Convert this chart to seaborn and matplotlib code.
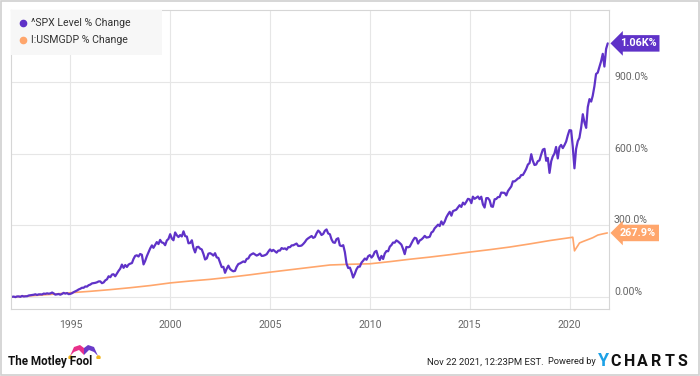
import matplotlib
matplotlib.use("Agg")
import matplotlib.pyplot as plt
import matplotlib.dates as mdates
import matplotlib.patches as mpatches
import seaborn as sns
import pandas as pd
import numpy as np

# S&P 500 month-end closes, Jan 1992 .. Nov 2021
spx_levels = [
    408.8, 412.7, 403.7, 414.9, 415.4, 408.1, 424.2, 414.0, 417.8, 418.7, 431.4, 435.7,
    438.8, 443.4, 451.7, 440.2, 450.2, 450.5, 448.1, 463.6, 458.9, 467.8, 461.8, 466.5,
    481.6, 467.1, 445.8, 450.9, 456.5, 444.3, 458.3, 475.5, 462.7, 472.4, 453.7, 459.3,
    470.4, 487.4, 500.7, 514.7, 533.4, 544.8, 562.1, 561.9, 584.4, 581.5, 605.4, 615.9,
    636.0, 640.4, 645.5, 654.2, 669.1, 670.6, 639.9, 652.0, 687.3, 705.3, 757.0, 740.7,
    786.2, 790.8, 757.1, 801.3, 848.3, 885.1, 954.3, 899.5, 947.3, 914.6, 955.4, 970.4,
    980.3, 1049.3, 1101.8, 1111.8, 1090.8, 1133.8, 1120.7, 957.3, 1017.0, 1098.7, 1163.6, 1229.2,
    1279.6, 1238.3, 1286.4, 1335.2, 1301.8, 1372.7, 1328.7, 1320.4, 1282.7, 1362.9, 1388.9, 1469.3,
    1394.5, 1366.4, 1498.6, 1452.4, 1420.6, 1454.6, 1430.8, 1517.7, 1436.5, 1429.4, 1315.2, 1320.3,
    1366.0, 1239.9, 1160.3, 1249.5, 1255.8, 1224.4, 1211.2, 1133.6, 1040.9, 1059.8, 1139.5, 1148.1,
    1130.2, 1106.7, 1147.4, 1076.9, 1067.1, 989.8, 911.6, 916.1, 815.3, 885.8, 936.3, 879.8,
    855.7, 841.2, 848.2, 916.9, 963.6, 974.5, 990.3, 1008.0, 996.0, 1050.7, 1058.2, 1111.9,
    1131.1, 1144.9, 1126.2, 1107.3, 1120.7, 1140.8, 1101.7, 1104.2, 1114.6, 1130.2, 1173.8, 1211.9,
    1181.3, 1203.6, 1180.6, 1156.9, 1191.5, 1191.3, 1234.2, 1220.3, 1228.8, 1207.0, 1249.5, 1248.3,
    1280.1, 1280.7, 1294.9, 1310.6, 1270.1, 1270.2, 1276.7, 1303.8, 1335.9, 1377.9, 1400.6, 1418.3,
    1438.2, 1406.8, 1420.9, 1482.4, 1530.6, 1503.4, 1455.3, 1474.0, 1526.8, 1549.4, 1481.1, 1468.4,
    1378.6, 1330.6, 1322.7, 1385.6, 1400.4, 1280.0, 1267.4, 1282.8, 1166.4, 968.8, 896.2, 903.3,
    825.9, 735.1, 797.9, 872.8, 919.1, 919.3, 987.5, 1020.6, 1057.1, 1036.2, 1095.6, 1115.1,
    1073.9, 1104.5, 1169.4, 1186.7, 1089.4, 1030.7, 1101.6, 1049.3, 1141.2, 1183.3, 1180.6, 1257.6,
    1286.1, 1327.2, 1325.8, 1363.6, 1345.2, 1320.6, 1292.3, 1218.9, 1131.4, 1253.3, 1247.0, 1257.6,
    1312.4, 1365.7, 1408.5, 1397.9, 1310.3, 1362.2, 1379.3, 1406.6, 1440.7, 1412.2, 1416.2, 1426.2,
    1498.1, 1514.7, 1569.2, 1597.6, 1630.7, 1606.3, 1685.7, 1633.0, 1681.6, 1756.5, 1805.8, 1848.4,
    1782.6, 1859.5, 1872.3, 1884.0, 1923.6, 1960.2, 1930.7, 2003.4, 1972.3, 2018.1, 2067.6, 2058.9,
    1995.0, 2104.5, 2067.9, 2085.5, 2107.4, 2063.1, 2103.8, 1972.2, 1920.0, 2079.4, 2080.4, 2043.9,
    1940.2, 1932.2, 2059.7, 2065.3, 2097.0, 2098.9, 2173.6, 2171.0, 2168.3, 2126.2, 2198.8, 2238.8,
    2278.9, 2363.6, 2362.7, 2384.2, 2411.8, 2423.4, 2470.3, 2471.7, 2519.4, 2575.3, 2647.6, 2673.6,
    2823.8, 2713.8, 2640.9, 2648.1, 2705.3, 2718.4, 2816.3, 2901.5, 2914.0, 2711.7, 2760.2, 2506.9,
    2704.1, 2784.5, 2834.4, 2945.8, 2752.1, 2941.8, 2980.4, 2926.5, 2976.7, 3037.6, 3141.0, 3230.8,
    3225.5, 2954.2, 2584.6, 2912.4, 3044.3, 3100.3, 3271.1, 3500.3, 3363.0, 3270.0, 3621.6, 3756.1,
    3714.2, 3811.2, 3972.9, 4181.2, 4204.1, 4297.5, 4395.3, 4522.7, 4307.5, 4605.4, 4700.0,
]
spx_base = 405.0

# monthly US GDP, % change since start
gdp_dates = [f"{y}-01-01" for y in range(1992, 2021)] + [
    "2020-03-01", "2020-04-01", "2020-05-01", "2020-06-01", "2020-07-01", "2020-09-01",
    "2020-12-01", "2021-03-01", "2021-06-01", "2021-09-01", "2021-11-22",
]
gdp_pct = [
    0, 5, 11, 18, 24, 31, 39, 48, 59, 67, 74, 83, 93, 104, 114, 124, 134, 137, 139,
    148, 158, 167, 177, 188, 198, 209, 222, 236, 248,
    250, 193, 204, 215, 226, 232, 240, 248, 259, 264, 267.9,
]

y_ticks = [0, 300, 600, 900]
y_tick_labels = ["0.00%", "300.0%", "600.0%", "900.0%"]
x_years = [1995, 2000, 2005, 2010, 2015, 2020]

spx_name = "^SPX Level % Change"
gdp_name = "I:USMGDP % Change"
purple = "#5f32c8"
orange = "#ffa66c"

spx = pd.DataFrame({
    "date": pd.date_range("1992-01-31", periods=len(spx_levels), freq="ME"),
    "pct": (np.array(spx_levels) / spx_base - 1) * 100,
})
gdp = pd.DataFrame({"date": pd.to_datetime(gdp_dates), "pct": gdp_pct})

sns.set_style("white")
plt.rcParams["font.family"] = ["Roboto", "DejaVu Sans"]

fig = plt.figure(figsize=(7, 3.76), dpi=100)
ax = fig.add_axes([10.5 / 700, 1 - 309 / 376, 598 / 700, 299 / 376])

sns.lineplot(data=gdp, x="date", y="pct", color=orange, lw=1.2, ax=ax)
sns.lineplot(data=spx, x="date", y="pct", color=purple, lw=1.6, ax=ax)

ax.set_xlim(pd.Timestamp("1992-01-01"), pd.Timestamp("2021-12-14"))
ax.set_ylim(-50, 1200)
ax.set_xticks([pd.Timestamp(f"{y}-01-01") for y in x_years])
ax.xaxis.set_major_formatter(mdates.DateFormatter("%Y"))
ax.yaxis.tick_right()
ax.set_yticks(y_ticks)
ax.set_yticklabels(y_tick_labels)
for lbl in ax.get_yticklabels():
    lbl.set_va("bottom")
ax.tick_params(axis="both", length=0, labelsize=7.6, labelcolor="#666666")
ax.tick_params(axis="x", pad=8)
ax.tick_params(axis="y", pad=4)
ax.set_xlabel("")
ax.set_ylabel("")
ax.grid(True, color="#e6e6e6", lw=0.8)
for s in ax.spines.values():
    s.set_color("#d6d6d6")
    s.set_linewidth(0.8)

# legend box
ax.add_patch(mpatches.Rectangle((0, 0.85), 0.253, 0.15, transform=ax.transAxes,
                                facecolor="#f7f7f7", edgecolor="none", zorder=3))
for i, (name, col) in enumerate([(spx_name, purple), (gdp_name, orange)]):
    yy = 0.955 - i * 0.054
    ax.plot([0.021], [yy], "o", ms=4.5, color=col, transform=ax.transAxes, zorder=4)
    ax.text(0.035, yy, name, transform=ax.transAxes, va="center", ha="left",
            fontsize=7.6, color="#333333", zorder=4)

# end value tags
last_spx = spx["pct"].iloc[-1]
last_gdp = gdp["pct"].iloc[-1]
for val, col, txt in [(last_spx, purple, f"{last_spx / 1000:.2f}K%"),
                      (last_gdp, orange, f"{last_gdp:.1f}%")]:
    ax.annotate(txt, xy=(1.0, val), xycoords=("axes fraction", "data"),
                xytext=(8, 0), textcoords="offset points", ha="left", va="center",
                fontsize=7.8, fontweight="bold", color="white",
                bbox=dict(boxstyle="larrow,pad=0.3", fc=col, ec="none"),
                annotation_clip=False)

# footer
fig.text(8 / 700, 1 - 362 / 376, "The Motley Fool", fontsize=8.4, fontweight="bold",
         color="#111111", va="center", ha="left")
logo = fig.add_axes([68 / 700, 1 - 358 / 376, 32 / 700, 14 / 376])
logo.set_xlim(0, 32)
logo.set_ylim(0, 14)
logo.axis("off")
logo.add_patch(mpatches.Polygon([[2, 2], [6, 11], [12, 13], [16, 10], [16, 3], [11, 8], [6, 6]],
                                closed=True, fc="#e8308a", ec="none"))
logo.add_patch(mpatches.Polygon([[16, 3], [16, 10], [20, 13], [26, 11], [30, 2], [26, 6], [21, 8]],
                                closed=True, fc="#6a3bc9", ec="none"))
logo.plot([2, 30], [1.5, 1.5], "o", ms=2.2, color="#f2b51d")

fig.text(427 / 700, 1 - 362 / 376, "Nov 22 2021, 12:23PM EST.", fontsize=6.8,
         color="#222222", va="center", ha="left")
fig.text(548 / 700, 1 - 362 / 376, "Powered by", fontsize=6.7,
         color="#222222", va="center", ha="left")
fig.text(598 / 700, 1 - 361 / 376, "Y", fontsize=13, fontweight="bold",
         color="#1da1e6", va="center", ha="left")
for i, ch in enumerate("CHARTS"):
    fig.text((610 + i * 13.6) / 700, 1 - 361 / 376, ch, fontsize=11.5, fontweight="bold",
             color="#111111", va="center", ha="left")

fig.add_artist(mpatches.Rectangle((0.001, 0.002), 0.998, 0.996, transform=fig.transFigure,
                                  fill=False, ec="#d0d0d0", lw=1.2))

fig.savefig("out.png", dpi=100)
